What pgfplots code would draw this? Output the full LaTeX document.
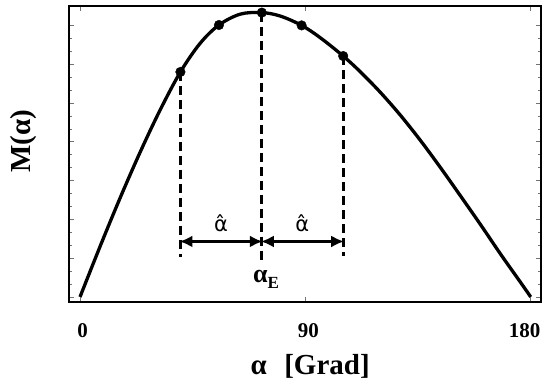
\documentclass[border=0pt]{standalone}
\usepackage{fontspec}
\setmainfont{Liberation Serif}
\newfontfamily\hatfont{DejaVu Sans}
\usepackage{pgfplots}
\pgfplotsset{compat=1.18}
\usetikzlibrary{arrows.meta}

\begin{document}
\begin{tikzpicture}
\begin{axis}[
  name=ax,
  scale only axis,
  width=472pt, height=296pt,
  xmin=-4.4, xmax=184.1,
  ymin=-0.13, ymax=7.5,
  xtick={0,90,180},
  xticklabels={\hspace*{5pt}0,\hspace*{6pt}90,180\hspace*{12pt}},
  ytick={0,1,...,7},
  yticklabels={},
  minor y tick num=2,
  tick align=inside,
  major tick length=5pt,
  minor tick length=3pt,
  tick style={line width=0.6pt, color=black!55},
  axis line style={line width=1.9pt},
  xticklabel style={font=\fontsize{21}{21}\selectfont\bfseries, anchor=base, yshift=-36pt},
  xlabel={α\hspace{0.6em}[Grad]},
  ylabel={M(α)},
  label style={font=\fontsize{29}{29}\selectfont\bfseries},
  xlabel style={at={(axis description cs:0.511,-0.2466)}, anchor=base},
  ylabel style={at={(axis description cs:-0.0953,0.544)}, anchor=center, rotate=0},
  clip=false,
]
% the measured curve M(alpha)
\addplot[line width=3.3pt, smooth, tension=0.55] coordinates {
  (0,0) (8,1.30) (16,2.55) (24,3.73) (32,4.82) (40.1,5.80) (48,6.54)
  (55.5,7.01) (64,7.29) (72.6,7.33) (80,7.24) (88.5,7.00) (96,6.68)
  (105.1,6.21) (112,5.80) (120,5.27) (128,4.68) (136,4.03) (144,3.33)
  (152,2.60) (160,1.86) (168,1.10) (176,0.37) (180,0)
};
% vertical guides at alpha_E - alpha_hat, alpha_E, alpha_E + alpha_hat
\addplot[line width=3pt, dash pattern=on 9pt off 5pt] coordinates {(40.1,5.80) (40.1,1.03)};
\addplot[line width=3pt, dash pattern=on 9pt off 5pt] coordinates {(72.6,7.33) (72.6,0.88)};
\addplot[line width=3pt, dash pattern=on 9pt off 5pt] coordinates {(105.1,6.21) (105.1,1.05)};
% measurement points
\addplot[only marks, mark=*, mark size=4.8pt, fill=black] coordinates {
  (40.1,5.80) (55.5,7.01) (72.6,7.33) (88.5,7.00) (105.1,6.21)
};
% double arrows for the step width
\addplot[line width=3pt, {Latex[length=13pt,width=12pt]}-{Latex[length=13pt,width=12pt]}, shorten <=-1pt, shorten >=-1pt] coordinates {(40.1,1.43) (72.6,1.43)};
\addplot[line width=3pt, {Latex[length=13pt,width=12pt]}-{Latex[length=13pt,width=12pt]}, shorten <=-1pt, shorten >=-1pt] coordinates {(72.6,1.43) (105.1,1.43)};
\node[anchor=base, font=\fontsize{21}{21}\selectfont\hatfont] at (axis cs:56.3,1.68) {α̂};
\node[anchor=base, font=\fontsize{21}{21}\selectfont\hatfont] at (axis cs:88.8,1.68) {α̂};
\node[anchor=base, font=\fontsize{26}{26}\selectfont\bfseries, inner sep=0pt] at (axis cs:74.3,0.36) {α\raisebox{-6pt}{\fontsize{17}{17}\selectfont E}};
\end{axis}
\pgfresetboundingbox
\path ([shift={(-69pt,-79pt)}]ax.south west) rectangle ([shift={(1pt,6pt)}]ax.north east);
\end{tikzpicture}
\end{document}
